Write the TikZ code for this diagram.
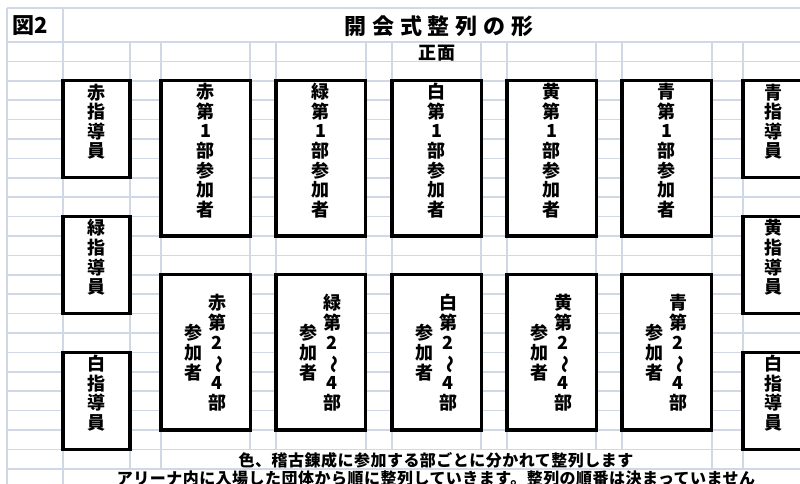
\documentclass[tikz,border=0pt]{standalone}
\usepackage{fontspec}
\usepackage{graphicx}
\usetikzlibrary{positioning,fit,calc}
\newfontfamily\jpfont{Noto Sans CJK JP}
\newfontfamily\jptitle{Noto Sans CJK JP}[LetterSpace=27]
\newfontfamily\jpfront{Noto Sans CJK JP}[LetterSpace=11]
\newfontfamily\jpnote{Noto Sans CJK JP}[LetterSpace=3]
\definecolor{gridcol}{HTML}{D0D7E5}
\tikzset{
  gridline/.style={draw=gridcol,line width=1.3pt},
  waku/.style={draw=black,line width=2.4pt,fill=white,inner sep=0pt,align=center,
    font=\jpfont\bfseries\fontsize{13.5}{14.7}\selectfont},
  tate/.style={inner sep=0pt,align=center,
    font=\jpfont\bfseries\fontsize{13.5}{15}\selectfont},
}
\newcommand{\namisen}{\rotatebox[origin=c]{-90}{〜}}

\begin{document}
\begin{tikzpicture}[x=0.75pt,y=-0.75pt]
  \useasboundingbox (0,0) rectangle (800,484);
  % sheet grid
  \draw[gridline] (7,8) -- (800,8);
  \foreach \k in {0,...,22}
    \draw[gridline] (7,42+19.4*\k) -- (800,42+19.4*\k);
  \foreach \x in {7,63}
    \draw[gridline] (\x,8) -- (\x,484);
  \foreach \x in {130,161,712,743}
    \draw[gridline] (\x,42) -- (\x,468.8);
  \foreach \x in {250,276,366,392,481,507,596,622}
    \draw[gridline] (\x,42) -- (\x,449.4);

  % headings
  \node[anchor=west,inner sep=0pt] (zu) at (12,26)
    {\jpfont\bfseries\fontsize{16.5}{18}\selectfont 図2};
  \node[inner sep=0pt] (title) at (439,26)
    {\jptitle\bfseries\fontsize{16.5}{18}\selectfont 開会式整列の形};
  \node[inner sep=0pt] (front) at (437,53)
    {\jpfront\bfseries\fontsize{13.5}{15}\selectfont 正面};

  % participants
  \foreach \nm/\cl/\xl in {aka/赤/161, midori/緑/276, shiro/白/392, ki/黄/507, ao/青/622}{
    \node[waku,fit={(\xl,80.8) (\xl+89.5,236)}] (\nm1) {\cl\\第\\1\\部\\参\\加\\者};
    \node[waku,fit={(\xl,274.8) (\xl+89.5,430)}] (\nm2) {};
    \node[tate] (\nm2l) at ([xshift=-9.4pt]\nm2.center) {参\\加\\者};
    \node[tate] (\nm2r) at ([xshift=8.6pt]\nm2.center) {\cl\\第\\2\\\namisen\\4\\部};
  }

  % leaders
  \foreach \nm/\cl/\ya/\yb in {akaL/赤/80.8/177.8, midoriL/緑/216.6/313.6, shiroL/白/352.4/449.4}
    \node[waku,fit={(63,\ya) (130,\yb)}] (\nm) {\cl\\指\\導\\員};
  \foreach \nm/\cl/\ya/\yb in {aoR/青/80.8/177.8, kiR/黄/216.6/313.6, shiroR/白/352.4/449.4}
    \node[waku,fit={(743,\ya) (803,\yb)}] (\nm) {\cl\\指\\導\\員};

  % notes
  \node[inner sep=0pt] (note1) at (436,460)
    {\jpnote\bfseries\fontsize{12}{14}\selectfont 色、稽古錬成に参加する部ごとに分かれて整列します};
  \node[inner sep=0pt] (note2) at (436,478)
    {\jpnote\bfseries\fontsize{12}{14}\selectfont アリーナ内に入場した団体から順に整列していきます。整列の順番は決まっていません};
\end{tikzpicture}
\end{document}
